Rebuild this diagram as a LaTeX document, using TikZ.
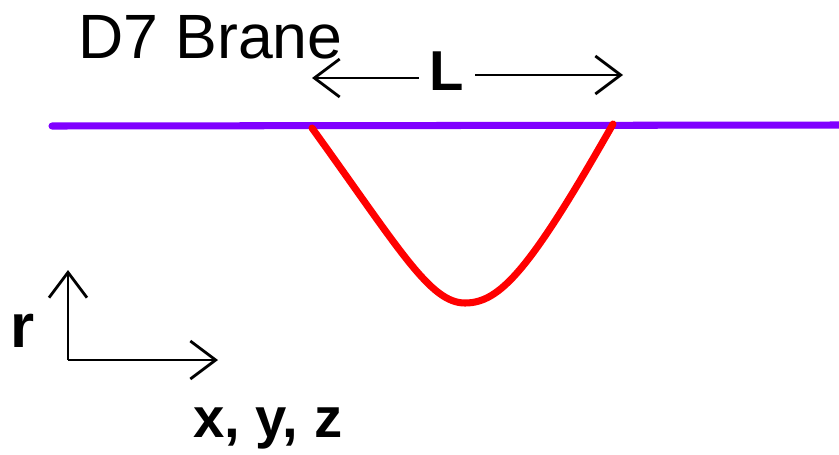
\documentclass[tikz,border=0pt]{standalone}
\usepackage{fontspec}
\setmainfont{Liberation Sans}
\usepackage{xcolor}
\definecolor{braneViolet}{HTML}{8000FF}
\usetikzlibrary{arrows.meta}

\begin{document}
\begin{tikzpicture}[x=0.025cm,y=-0.025cm,
 brane/.style={draw=braneViolet,line width=5pt,line cap=round},
 string/.style={draw=red,line width=5pt,line cap=round},
 arr/.style={-{Straight Barb[length=18pt,width=27pt]},line width=2pt},
 lbl/.style={inner sep=0pt,font=\bfseries\fontsize{40}{40}\selectfont}]
 \useasboundingbox (0,0) rectangle (839,454);
 \node[inner sep=0pt,anchor=base west,font=\fontsize{44.5}{44.5}\selectfont] (d7) at (78,58) {D7 Brane};
 \node[lbl,minimum width=40pt] (len) at (447,71) {L};
 \coordinate (lenl) at (312,78);
 \coordinate (lenr) at (623,75);
 \draw[arr] (len.west |- lenl)--(lenl);
 \draw[arr] (len.east |- lenr)--(lenr);
 \coordinate (braneL) at (52,126);
 \coordinate (braneR) at (839,125);
 \draw[brane] (braneL)--(braneR);
 \coordinate (stringL) at (312,128);
 \coordinate (stringB) at (465,303);
 \coordinate (stringR) at (613,124);
 \draw[string] (stringL) .. controls (400,250) and (430,303) .. (stringB)
 .. controls (500,303) and (530,270) .. (stringR);
 \coordinate (origin) at (68,360);
 \coordinate (rtip) at (68,270);
 \coordinate (xtip) at (218,360);
 \draw[arr] (origin)--(rtip);
 \draw[arr] (origin)--(xtip);
 \node[lbl,font=\bfseries\fontsize{44}{44}\selectfont] (r) at (23,331) {r};
 \node[lbl,anchor=base west] (xyz) at (193,437) {x, y, z};
\end{tikzpicture}
\end{document}
